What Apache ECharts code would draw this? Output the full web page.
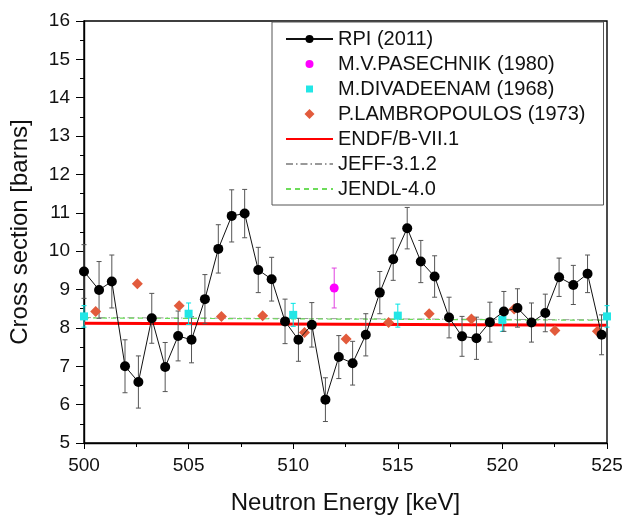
<!DOCTYPE html>
<html><head><meta charset="utf-8">
<script src="https://cdn.jsdelivr.net/npm/echarts@6/dist/echarts.min.js"></script>
<style>html,body{margin:0;padding:0;background:#fff}#c{width:624px;height:516px}</style>
</head><body><div id="c"></div>
<script>
// RPI (2011)
const rpiX = [500.00,500.72,501.33,501.96,502.60,503.24,503.88,504.50,505.14,505.78,506.42,507.06,507.68,508.33,508.97,509.61,510.25,510.89,511.54,512.18,512.84,513.47,514.14,514.78,515.45,516.10,516.76,517.45,518.07,518.76,519.40,520.07,520.72,521.39,522.05,522.71,523.39,524.07,524.74];
const rpiY = [9.47,8.99,9.21,7.00,6.59,8.25,6.98,7.79,7.69,8.75,10.06,10.92,10.98,9.51,9.27,8.17,7.69,8.08,6.13,7.24,7.08,7.82,8.92,9.79,10.60,9.73,9.34,8.27,7.78,7.73,8.15,8.43,8.52,8.14,8.39,9.32,9.12,9.41,7.82];
const rpiErr = [0.70,0.74,0.69,0.69,0.68,0.65,0.64,0.65,0.60,0.64,0.63,0.68,0.63,0.59,0.57,0.58,0.56,0.58,0.57,0.56,0.57,0.55,0.55,0.55,0.54,0.55,0.54,0.53,0.52,0.55,0.52,0.52,0.50,0.51,0.49,0.50,0.51,0.49,0.52];
// M.V.PASECHNIK (1980)
const pasX = [511.96];
const pasY = [9.04];
const pasErr = [0.52];
// M.DIVADEENAM (1968)
const divX = [500,505,510,515,520,525];
const divY = [8.30,8.37,8.34,8.32,8.21,8.30];
const divErr = [0.28,0.28,0.30,0.30,0.30,0.28];
// P.LAMBROPOULOS (1973)
const lamX = [500.56,502.55,504.55,506.57,508.54,510.54,512.53,514.56,516.50,518.52,520.56,522.51,524.54];
const lamY = [8.43,9.15,8.58,8.30,8.32,7.88,7.71,8.14,8.37,8.23,8.49,7.93,7.91];
// Evaluations
const endfX = [500,525], endfY = [8.12,8.07];
const jeffX = [500,525], jeffY = [8.27,8.21];
const jendlX = [500,525], jendlY = [8.26,8.20];

const FONT = 'Liberation Sans';

const zip = (xs, ys) => xs.map((x,i)=>[x, ys[i]]);
const zip3 = (xs, ys, es) => xs.map((x,i)=>[x, ys[i], es[i]]);

function errRender(color){
  return function(params, api){
    const x = api.value(0), y = api.value(1), e = api.value(2);
    const top = api.coord([x, y+e]), bot = api.coord([x, y-e]);
    const cw = 2.5;
    const st = {stroke: color, lineWidth: 1};
    return {type:'group', children:[
      {type:'line', shape:{x1:top[0],y1:top[1],x2:bot[0],y2:bot[1]}, style:st},
      {type:'line', shape:{x1:top[0]-cw,y1:top[1],x2:top[0]+cw,y2:top[1]}, style:st},
      {type:'line', shape:{x1:bot[0]-cw,y1:bot[1],x2:bot[0]+cw,y2:bot[1]}, style:st}
    ]};
  };
}

const ICON_SQUARE = 'path://M-1.5,-1.5M0,0L7,0L7,7L0,7ZM8.5,8.5';
const ICON_DIAMOND = 'path://M5,0L10,5L5,10L0,5Z';
const ICON_CIRCLE = 'path://M-1,-1M8,4A4,4,0,1,1,0,4A4,4,0,1,1,8,4ZM9,9';

const chart = echarts.init(document.getElementById('c'), null, {renderer:'canvas'});
chart.setOption({
  animation:false,
  backgroundColor:'#fff',
  textStyle:{fontFamily:FONT},
  grid:{left:84, right:17, top:21, bottom:73, outerBoundsMode:'none', containLabel:false,
        show:true, borderColor:'#000', borderWidth:1.4, backgroundColor:'transparent'},
  xAxis:{
    type:'value', min:500, max:525, interval:5,
    name:'Neutron Energy [keV]', nameLocation:'middle', nameGap:48,
    nameTextStyle:{fontSize:24, color:'#111', fontFamily:FONT},
    axisLine:{lineStyle:{color:'#000', width:1.4}},
    axisTick:{show:true, inside:false, length:6, lineStyle:{color:'#000'}},
    minorTick:{show:true, splitNumber:2, length:4, lineStyle:{color:'#000'}},
    axisLabel:{fontSize:19, color:'#111', margin:13, fontFamily:FONT},
    splitLine:{show:false}
  },
  yAxis:{
    type:'value', min:5, max:16, interval:1,
    name:'Cross section [barns]', nameLocation:'middle', nameGap:52, nameRotate:90,
    nameTextStyle:{fontSize:24, color:'#111', fontFamily:FONT},
    axisLine:{lineStyle:{color:'#000', width:1.4}},
    axisTick:{show:true, inside:false, length:8, lineStyle:{color:'#000'}},
    minorTick:{show:true, splitNumber:2, length:4, lineStyle:{color:'#000'}},
    axisLabel:{fontSize:19, color:'#111', margin:14, fontFamily:FONT},
    splitLine:{show:false}
  },
  legend:{
    orient:'vertical', left:272, top:22,
    padding:[7,18,6,13], itemWidth:47, itemHeight:10, itemGap:5,
    symbolKeepAspect:true,
    borderColor:'#555', borderWidth:1, backgroundColor:'#fff',
    textStyle:{fontSize:20, color:'#111', fontFamily:FONT},
    data:[
      {name:'RPI (2011)'},
      {name:'M.V.PASECHNIK (1980)', icon:ICON_CIRCLE},
      {name:'M.DIVADEENAM (1968)', icon:ICON_SQUARE},
      {name:'P.LAMBROPOULOS (1973)', icon:ICON_DIAMOND},
      {name:'ENDF/B-VII.1', itemStyle:{opacity:0}},
      {name:'JEFF-3.1.2', itemStyle:{opacity:0}},
      {name:'JENDL-4.0', itemStyle:{opacity:0}}
    ]
  },
  series:[
    {name:'ENDF/B-VII.1', type:'line', data:zip(endfX,endfY), symbol:'none', lineStyle:{color:'#ff0000', width:3}, itemStyle:{color:'#ff0000'}, z:2},
    {name:'JEFF-3.1.2', type:'line', data:zip(jeffX,jeffY), symbol:'none', lineStyle:{color:'#999999', width:1, type:[7,3,1.5,3]}, itemStyle:{color:'#999999'}, z:2},
    {name:'JENDL-4.0', type:'line', data:zip(jendlX,jendlY), symbol:'none', lineStyle:{color:'#6ddc5a', width:1.2, type:[5,4]}, itemStyle:{color:'#6ddc5a'}, z:2},
    {type:'custom', renderItem:errRender('#00e5e5'), data:zip3(divX,divY,divErr), encode:{x:0,y:1}, clip:false, z:3, silent:true},
    {type:'custom', renderItem:errRender('#e040e0'), data:zip3(pasX,pasY,pasErr), encode:{x:0,y:1}, z:3, silent:true},
    {type:'custom', renderItem:errRender('#555555'), data:zip3(rpiX,rpiY,rpiErr), encode:{x:0,y:1}, z:3, silent:true},
    {name:'M.DIVADEENAM (1968)', type:'scatter', data:zip(divX,divY), symbol:'rect', symbolSize:8, itemStyle:{color:'#22e6e6', opacity:1}, z:4, clip:false},
    {name:'P.LAMBROPOULOS (1973)', type:'scatter', data:zip(lamX,lamY), symbol:'diamond', symbolSize:11, itemStyle:{color:'#e25b3c', opacity:1}, z:4},
    {name:'M.V.PASECHNIK (1980)', type:'scatter', data:zip(pasX,pasY), symbol:'circle', symbolSize:9, itemStyle:{color:'#ff00ff', opacity:1}, z:4},
    {name:'RPI (2011)', type:'line', data:zip(rpiX,rpiY), symbol:'circle', symbolSize:10, showAllSymbol:true,
      lineStyle:{color:'#111', width:1}, itemStyle:{color:'#000', borderWidth:0}, z:5}
  ]
});
</script>
</body></html>
